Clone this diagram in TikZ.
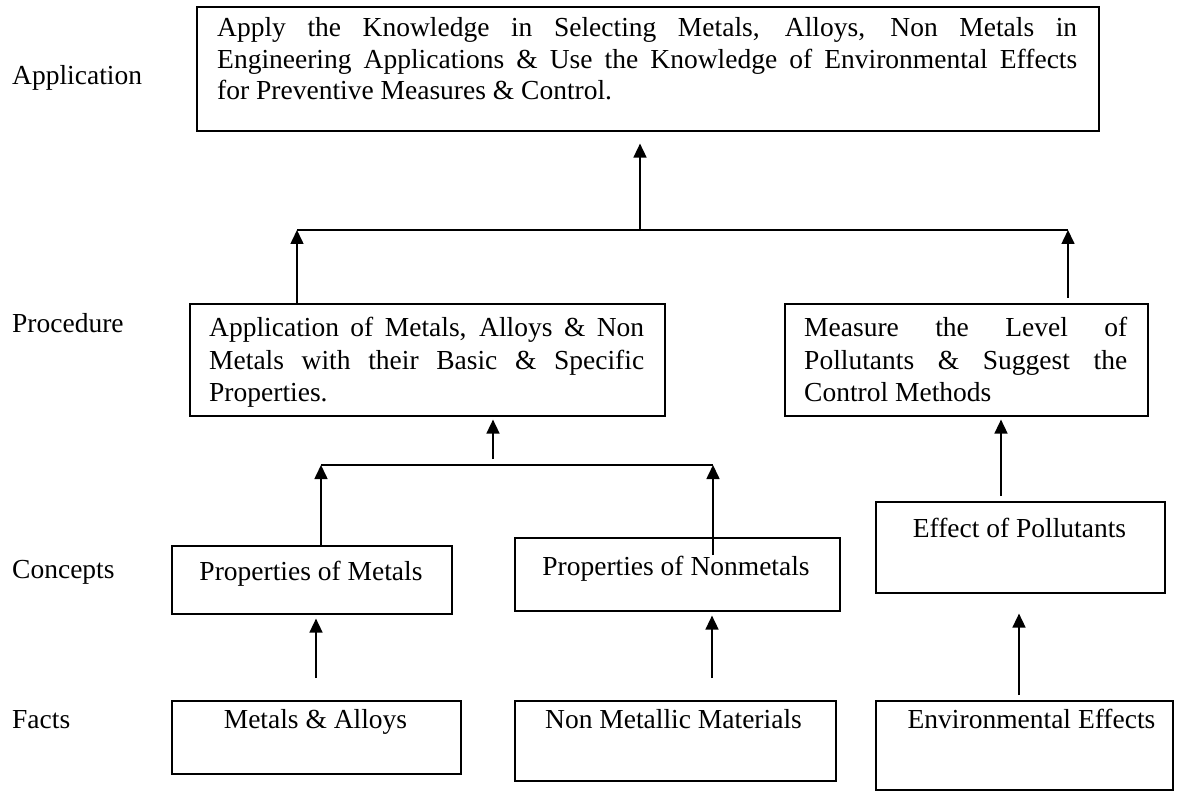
\documentclass[tikz,border=0pt]{standalone}
\usepackage{fontspec}
\setmainfont{Liberation Serif}
\usetikzlibrary{arrows.meta,calc}
\newcommand\dfont{\fontsize{27.5}{31.7}\selectfont}
\begin{document}
\begin{tikzpicture}[x=1pt,y=-1pt,
  box/.style={draw, line width=1.6pt, inner sep=0pt, anchor=north west},
  txt/.style={inner sep=0pt, anchor=base west, font=\dfont},
  ctxt/.style={inner sep=0pt, anchor=base, font=\dfont},
  ln/.style={line width=1.6pt},
  arr/.style={line width=1.6pt, -{Triangle[length=14pt,width=13pt]}}]
\useasboundingbox (0,0) rectangle (1188,791);
% level labels
\node[txt] (lapp) at (12,85) {Application};
\node[txt] (lproc) at (12,333) {Procedure};
\node[txt] (lcon) at (12,578) {Concepts};
\node[txt] (lfact) at (12,728) {Facts};
% boxes
\node[box, minimum width=902pt, minimum height=124pt] (tb) at (196,6) {};
\node[box, minimum width=475pt, minimum height=112pt] (pl) at (189,303) {};
\node[box, minimum width=363pt, minimum height=112pt] (pm) at (784,303) {};
\node[box, minimum width=280pt, minimum height=68pt] (cm) at (171,545) {};
\node[box, minimum width=325pt, minimum height=73pt] (cn) at (514,537) {};
\node[box, minimum width=289pt, minimum height=91pt] (ce) at (875,501) {};
\node[box, minimum width=289pt, minimum height=73pt] (fm) at (171,700) {};
\node[box, minimum width=321pt, minimum height=80pt] (fn) at (514,700) {};
\node[box, minimum width=297pt, minimum height=89pt] (fe) at (875,700) {};
% texts
\node[txt] (tb1) at (217,37) {\makebox[860pt][s]{Apply the Knowledge in Selecting Metals, Alloys, Non Metals in}};
\node[txt] (tb2) at (217,68.5) {\makebox[860pt][s]{Engineering Applications \& Use the Knowledge of Environmental Effects}};
\node[txt] (tb3) at (217,100) {for Preventive Measures \& Control.};
\node[txt] (pl1) at (209,337) {\makebox[435pt][s]{Application of Metals, Alloys \& Non}};
\node[txt] (pl2) at (209,369) {\makebox[435pt][s]{Metals with their Basic \& Specific}};
\node[txt] (pl3) at (209,401) {Properties.};
\node[txt] (pm1) at (804,337) {\makebox[323pt][s]{Measure the Level of}};
\node[txt] (pm2) at (804,369) {\makebox[323pt][s]{Pollutants \& Suggest the}};
\node[txt] (pm3) at (804,401) {Control Methods};
\node[ctxt] (cmt) at (311,580) {Properties of Metals};
\node[ctxt] (cnt) at (676,575) {Properties of Nonmetals};
\node[ctxt] (cet) at (1019.5,537) {Effect of Pollutants};
\node[ctxt] (fmt) at (315.5,728) {Metals \& Alloys};
\node[ctxt] (fnt) at (673.5,728) {Non Metallic Materials};
\node[ctxt] (fet) at (1031.5,728) {Environmental Effects};
% upper bus
\coordinate (b1l) at (297,230);
\coordinate (b1m) at (640,230);
\coordinate (b1r) at (1068,230);
\draw[ln] (b1l) -- (b1r);
\draw[arr] (b1m) -- ($(tb.south -| b1m)+(0,12)$);
\draw[arr] (pl.north -| b1l) -- (b1l);
\draw[arr] ($(pm.north -| b1r)+(0,-5)$) -- (b1r);
% middle bus
\coordinate (b2l) at (321,465);
\coordinate (b2m) at (493,465);
\coordinate (b2r) at (713,465);
\draw[ln] (b2l) -- (b2r);
\draw[arr] ($(b2m)+(0,-6)$) -- ($(pl.south -| b2m)+(0,3)$);
\draw[arr] (cm.north -| b2l) -- (b2l);
\draw[arr] ($(cn.north -| b2r)+(0,18)$) -- (b2r);
% right column
\coordinate (xe1) at (1001,0);
\coordinate (xe2) at (1019,0);
\draw[arr] ($(ce.north -| xe1)+(0,-5)$) -- ($(pm.south -| xe1)+(0,3)$);
\draw[arr] ($(fe.north -| xe2)+(0,-5)$) -- ($(ce.south -| xe2)+(0,20)$);
% facts to concepts
\coordinate (xf1) at (316,0);
\coordinate (xf2) at (712,0);
\draw[arr] ($(fm.north -| xf1)+(0,-22)$) -- ($(cm.south -| xf1)+(0,4)$);
\draw[arr] ($(fn.north -| xf2)+(0,-22)$) -- ($(cn.south -| xf2)+(0,4)$);
\end{tikzpicture}
\end{document}
